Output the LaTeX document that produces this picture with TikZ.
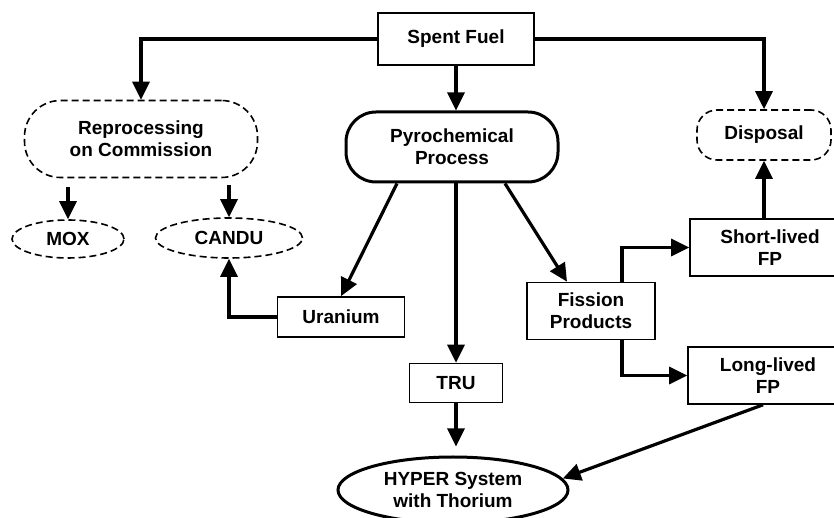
\documentclass[tikz,border=0pt]{standalone}
\usepackage{fontspec}
\setmainfont{Liberation Sans}
\usetikzlibrary{arrows.meta,shapes.geometric}
\begin{document}
\begin{tikzpicture}[x=1pt,y=1pt,>={Triangle[length=18pt,width=17pt]},
    every node/.style={font=\fontsize{19}{22}\selectfont\bfseries,align=center,inner sep=0pt},
    boxnode/.style={draw,line width=1.6pt},
    dashnode/.style={draw,line width=1.6pt,dash pattern=on 7pt off 4pt},
    flow/.style={->,line width=3.2pt}]
                \useasboundingbox (0,0) rectangle (834,518);
                \clip (0,0) rectangle (834,518);
                \node[boxnode,minimum width=156pt,minimum height=52pt] (spent) at (456,479) {Spent Fuel};
                \node[boxnode,line width=3pt,rounded corners=30pt,minimum width=212pt,minimum height=70pt] (pyro) at (452,371) {Pyrochemical\\Process};
                \node[dashnode,rounded corners=36pt,minimum width=233pt,minimum height=77pt] (repro) at (141,379) {Reprocessing\\on Commission};
                \node[dashnode,rounded corners=20pt,minimum width=134pt,minimum height=50pt] (disposal) at (764,383) {Disposal};
                \node[dashnode,ellipse,minimum width=112pt,minimum height=38pt] (mox) at (68,279) {MOX};
                \node[dashnode,ellipse,minimum width=147pt,minimum height=40pt] (candu) at (229,280) {CANDU};
                \node[boxnode,minimum width=127pt,minimum height=40pt] (uranium) at (341,201) {Uranium};
                \node[boxnode,minimum width=93pt,minimum height=39pt] (tru) at (456,135) {TRU};
                \node[boxnode,minimum width=128pt,minimum height=57pt] (fission) at (591,207) {Fission\\Products};
                \node[boxnode,minimum width=160pt,minimum height=57pt] (short) at (770,270.5) {Short-lived\\FP};
                \node[boxnode,minimum width=160pt,minimum height=57pt] (long) at (768,142.5) {Long-lived\\FP};
                \node[draw,ellipse,line width=3pt,minimum width=230pt,minimum height=66pt] (hyper) at (453,28) {HYPER System\\with Thorium};
                \draw[flow] (spent.west) -| (repro.north);
                \draw[flow] (spent.east) -| (disposal.north);
                \draw[flow] (spent.south) -- (spent.south |- pyro.north);
                \draw[flow] ([yshift=32pt]mox.north) -- (mox.north);
                \draw[flow] ([yshift=32pt]candu.north) -- (candu.north);
                \draw[flow] ([xshift=-55pt]pyro.south) -- (uranium.north);
                \draw[flow] (tru.north |- pyro.south) -- (tru.north);
                \draw[flow] ([xshift=53pt]pyro.south) -- ([xshift=-24pt]fission.north);
                \draw[flow] (uranium.west) -| (candu.south);
                \draw[flow] ([xshift=31pt]fission.north) |- (short.west);
                \draw[flow] ([xshift=31pt]fission.south) |- (long.west);
                \draw[flow] (disposal.south |- short.north) -- (disposal.south);
                \draw[flow,shorten >=9pt] (tru.south) -- (tru.south |- hyper.north);
                \draw[flow] ([xshift=-5pt]long.south) -- (hyper.6);
\end{tikzpicture}
\end{document}
